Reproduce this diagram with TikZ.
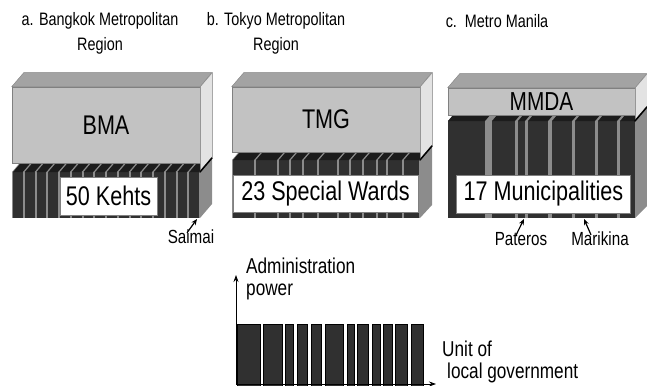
\documentclass[tikz,border=0pt]{standalone}
\usepackage{fontspec}
\setmainfont{Liberation Sans}[FakeStretch=0.8]
\usetikzlibrary{arrows.meta,calc}
\definecolor{Front}{HTML}{C2C2C2}
\definecolor{Top}{HTML}{A3A3A3}
\definecolor{Side}{HTML}{E3E3E3}
\definecolor{Bar}{HTML}{303030}
\definecolor{BarTop}{HTML}{1C1C1C}
\definecolor{Wall}{HTML}{8C8C8C}

\begin{document}
\begin{tikzpicture}[x=1pt,y=-1pt,
    title/.style={align=center,font=\fontsize{18}{25}\selectfont},
    tier/.style={rectangle,fill=Front,draw=gray,line width=0.6pt,inner sep=0pt,
      font=\fontsize{27}{27}\selectfont},
    label/.style={rectangle,fill=white,draw=gray,line width=0.5pt,inner sep=0pt,
      font=\fontsize{27}{27}\selectfont},
    note/.style={font=\fontsize{19}{19}\selectfont,inner sep=1pt},
    axislabel/.style={align=left,font=\fontsize{21.5}{21.5}\selectfont,inner sep=0pt},
    pin/.style={-{Stealth[length=6pt,width=5pt]},line width=1.2pt},
    axis/.style={-{Stealth[length=7pt,width=5pt]},line width=0.8pt},
    face/.style={draw=gray,line width=0.4pt},
    edge/.style={line width=1.5pt,line cap=round}
  ]
  \useasboundingbox (0,0) rectangle (647,385);

  \node[title] (ta) at (100,33) {a. Bangkok Metropolitan\\Region};
  \node[title] (tb) at (276,33) {b. Tokyo Metropolitan\\Region};
  \node[title] (tc) at (497,21) {c.\ \ Metro Manila};

  % a. Bangkok
  \fill[Wall] (12,172) -- (24,158) -- (212,158) -- (200,172) -- cycle;
  \fill[Wall] (12,172) rectangle (200,218);
  \foreach \i in {0,...,15}{
    \pgfmathsetmacro\xa{12+\i*11.75+1}
    \pgfmathsetmacro\xb{12+(\i+1)*11.75-1}
    \fill[Bar] (\xa,172) rectangle (\xb,218);
    \fill[BarTop] (\xa,172) -- (\xa+12,158) -- (\xb+12,158) -- (\xb,172) -- cycle;
  }
  \fill[Wall] (200,172) -- (212,158) -- (212,204) -- (200,218) -- cycle;
  \node[tier,minimum width=188,minimum height=76] (bma) at (106,125) {BMA};
  \filldraw[face,fill=Top] (bma.north west) -- ++(12,-14) -- ++(188,0) -- (bma.north east) -- cycle;
  \filldraw[face,fill=Side] (bma.north east) -- ++(12,-14) -- ++(0,84) -- ++(-12,14) -- cycle;
  \draw[edge] (200,172) -- (212,158);
  \node[label,minimum width=97,minimum height=38] (kehts) at (108.5,196) {50 Kehts};
  \node[note] (saimai) at (191,237) {Saimai};
  \coordinate (saimaiBar) at (197,219);
  \draw[pin] ($(saimai.north)+(-4,4)$) -- (saimaiBar);

  % b. Tokyo
  \fill[Wall] (232,160) -- (244,146) -- (432,146) -- (420,160) -- cycle;
  \fill[Wall] (232,160) rectangle (420,218);
  \foreach \xa/\xb in {232/255,255/278,278/290,290/303,303/318,318/338,
      338/350,350/363,363/377,377/387,387/403,403/420}{
    \fill[Bar] (\xa+1,160) rectangle (\xb-1,218);
    \fill[BarTop] (\xa+1,160) -- (\xa+13,146) -- (\xb+11,146) -- (\xb-1,160) -- cycle;
  }
  \fill[Wall] (420,160) -- (432,146) -- (432,205) -- (420,218) -- cycle;
  \node[tier,minimum width=188,minimum height=65] (tmg) at (326,119.5) {TMG};
  \filldraw[face,fill=Top] (tmg.north west) -- ++(12,-14) -- ++(188,0) -- (tmg.north east) -- cycle;
  \filldraw[face,fill=Side] (tmg.north east) -- ++(12,-14) -- ++(0,72) -- ++(-12,14) -- cycle;
  \draw[edge] (420,160) -- (432,146);
  \node[label,minimum width=185,minimum height=37] (wards) at (325.5,193.5) {23 Special Wards};

  % c. Manila
  \fill[Wall] (448,121) -- (460,107) -- (647,107) -- (635,121) -- cycle;
  \fill[Wall] (448,121) rectangle (635,218);
  \foreach \xa/\xb in {448/485,492/515,518/525,528/548,552/572,575/595,598/617,620/635}{
    \fill[Bar] (\xa,121) rectangle (\xb,218);
    \fill[BarTop] (\xa,121) -- (\xa+12,107) -- (\xb+12,107) -- (\xb,121) -- cycle;
  }
  \fill[Wall] (635,121) -- (647,107) -- (647,206) -- (635,218) -- cycle;
  \node[tier,minimum width=187,minimum height=27,font=\fontsize{26}{26}\selectfont] (mmda) at (541.5,101.5) {MMDA};
  \filldraw[face,fill=Top] (mmda.north west) -- ++(12,-14) -- ++(187,0) -- (mmda.north east) -- cycle;
  \filldraw[face,fill=Side] (mmda.north east) -- ++(12,-14) -- ++(0,32) -- ++(-12,14) -- cycle;
  \draw[edge] (635,121) -- (647,107);
  \node[label,minimum width=174,minimum height=38] (munis) at (543.5,194) {17 Municipalities};
  \node[note] (pateros) at (521,239) {Pateros};
  \node[note] (marikina) at (600,239) {Marikina};
  \coordinate (paterosBar) at (524,219);
  \coordinate (marikinaBar) at (584,219);
  \draw[pin] ($(pateros.north)+(-5,4)$) -- (paterosBar);
  \draw[pin] ($(marikina.north)+(-9,4)$) -- (marikinaBar);

  % legend
  \foreach \xa/\xb in {237/260,263/282,285/293,297/307,311/321,325/343,
      347/354,357/368,372/380,383/392,395/407,411/423}{
    \filldraw[fill=Bar,draw=black,line width=0.8pt] (\xa,324) rectangle (\xb,386);
  }
  \coordinate (origin) at (236,384);
  \coordinate (powerEnd) at (236,275);
  \coordinate (unitEnd) at (436,384);
  \draw[axis] (origin) -- (powerEnd);
  \draw[axis] (origin) -- (unitEnd);
  \node[axislabel,anchor=west] (power) at (246,279) {Administration\\power};
  \node[axislabel,anchor=west] (unit) at (442,362) {Unit of\\\hspace{5pt}local government};
\end{tikzpicture}
\end{document}
